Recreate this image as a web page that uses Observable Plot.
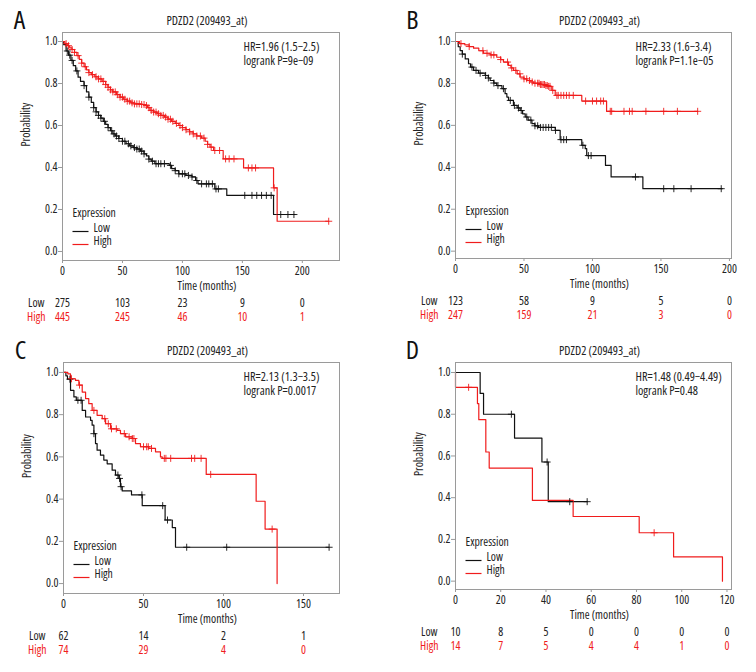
<!DOCTYPE html>
<html><head><meta charset="utf-8">
<script src="https://cdn.jsdelivr.net/npm/d3@7"></script>
<script src="https://cdn.jsdelivr.net/npm/@observablehq/plot@0.6"></script>
<style>
body{margin:0;background:#fff;}
#fig{position:relative;width:756px;height:672px;background:#fff;overflow:hidden;}
#fig svg{position:absolute;background:transparent;}
</style></head><body><div id="fig"></div>
<script>
const RED = "#f01c1c";
const GRAY = "#9a9a9a";
const TXT = "#222";

const title = "PDZD2 (209493_at)";
const yTicks = [0, 0.2, 0.4, 0.6, 0.8, 1.0];

// ---------- Panel A ----------
const aXTicks = [0, 50, 100, 150, 200];
const aHR = ["HR=1.96 (1.5−2.5)", "logrank P=9e−09"];
const aLow = [[0,1],[1,0.985],[3,0.955],[5,0.935],[7,0.91],[9,0.885],[11,0.86],[13,0.83],[15,0.81],[18,0.79],[20,0.76],[22,0.735],[24,0.71],[26,0.685],[28,0.665],[30,0.648],[32,0.635],[34,0.62],[36,0.605],[38,0.59],[40,0.575],[42,0.56],[44,0.55],[47,0.538],[50,0.525],[53,0.513],[56,0.503],[59,0.495],[62,0.488],[65,0.478],[68,0.465],[70,0.455],[72,0.44],[74,0.43],[77,0.418],[89,0.41],[91,0.395],[94,0.385],[97,0.37],[103,0.362],[108,0.355],[111,0.338],[113,0.322],[127,0.298],[137,0.267],[176,0.176],[194,0.176]];
const aHigh = [[0,1],[2,0.99],[4,0.98],[6,0.97],[8,0.962],[10,0.948],[12,0.933],[14,0.915],[16,0.897],[18,0.88],[20,0.865],[22,0.852],[24,0.842],[27,0.832],[30,0.822],[33,0.81],[36,0.795],[38,0.782],[40,0.77],[42,0.76],[45,0.747],[48,0.735],[51,0.725],[54,0.716],[57,0.708],[60,0.703],[65,0.7],[69,0.695],[71,0.685],[73,0.672],[76,0.664],[79,0.656],[82,0.648],[85,0.64],[88,0.63],[91,0.62],[94,0.61],[97,0.6],[100,0.59],[103,0.58],[106,0.57],[109,0.56],[112,0.55],[116,0.54],[119,0.525],[121,0.51],[123,0.497],[126,0.481],[134,0.441],[151,0.398],[176,0.303],[179,0.144],[222,0.144]];
const aLowCens = [4,6,8,12,18,22,26,28,30,32,35,38,41,43,45,47,50,52,55,57,60,62,64,66,68,72,75,78,80,82,85,90,94,97,100,102,105,108,112,116,120,122,125,128,130,152,158,162,166,170,174,182,188,193];
const aHighCens = [3,5,8,10,13,16,19,22,25,28,30,32,34,36,38,40,42,44,46,48,50,52,54,56,58,60,62,64,66,68,70,72,74,76,78,80,82,84,86,88,90,92,95,98,100,103,106,109,112,115,118,121,124,127,131,136,139,143,155,158,161,176.5,222];
const aRiskLow = [275, 103, 23, 9, 0];
const aRiskHigh = [445, 245, 46, 10, 1];

// ---------- Panel B ----------
const bXTicks = [0, 50, 100, 150, 200];
const bHR = ["HR=2.33 (1.6−3.4)", "logrank P=1.1e−05"];
const bLow = [[0,1],[2,0.975],[3.4,0.957],[5,0.94],[7.1,0.917],[9.5,0.894],[11,0.878],[13.2,0.862],[16.8,0.849],[21.7,0.838],[24,0.826],[25.3,0.814],[28,0.802],[30.1,0.79],[33.9,0.775],[36.2,0.751],[37.5,0.735],[38.7,0.719],[42.3,0.695],[45,0.683],[47.2,0.671],[49,0.655],[50.9,0.64],[53,0.625],[55.8,0.608],[58,0.598],[60.6,0.59],[72.8,0.576],[76.4,0.532],[92.2,0.505],[94.7,0.489],[95.8,0.456],[109.5,0.409],[113.6,0.354],[136.8,0.298],[194.7,0.298]];
const bHigh = [[0,1],[3,0.99],[6.8,0.984],[10,0.976],[13.2,0.968],[17,0.956],[20.4,0.944],[25.3,0.936],[30.1,0.925],[33,0.914],[35,0.902],[38.7,0.886],[40.5,0.874],[42.3,0.862],[45,0.846],[47.2,0.83],[50,0.822],[52.1,0.814],[55,0.807],[57,0.801],[61.9,0.795],[66,0.79],[68,0.786],[70.3,0.767],[72.8,0.743],[92.2,0.716],[110.3,0.667],[176.8,0.667]];
const bLowCens = [5,12,15,18,22,24,28,31,35,40,43,46,48,52,55,58,60,62,64,66,68,70,73,77,79,81,93,97,99,131.4,152,159.4,172,194];
const bHighCens = [4,10,20,23,26,28,33,38,41,44,47,50,52,54,56,58,60,61,62,63,64,65,66,67,68,69,71,74,75,77,79,81,83,86,95,100,103,106,108,113,114,123,127,129,139,152,162,176.8];
const bRiskLow = [123, 58, 9, 5, 0];
const bRiskHigh = [247, 159, 21, 3, 0];

// ---------- Panel C ----------
const cXTicks = [0, 50, 100, 150];
const cHR = ["HR=2.13 (1.3−3.5)", "logrank P=0.0017"];
const cLow = [[0,1],[1.5,0.984],[2.5,0.968],[4.4,0.915],[6.5,0.884],[8,0.868],[11.7,0.82],[13.8,0.789],[16.9,0.773],[17.9,0.75],[19,0.71],[20,0.663],[21,0.632],[23.1,0.608],[25.2,0.585],[27.3,0.567],[30.4,0.537],[32.5,0.514],[34.6,0.498],[35.6,0.459],[36.7,0.439],[42.5,0.42],[49.2,0.369],[63.5,0.301],[68,0.265],[70,0.172],[165.8,0.172]];
const cHigh = [[0,1],[2.7,0.993],[4.4,0.97],[7.5,0.962],[9.6,0.94],[11.7,0.907],[13.8,0.876],[15.8,0.852],[17.9,0.82],[21,0.797],[24.2,0.781],[26.3,0.757],[29.4,0.733],[33.5,0.726],[35.6,0.71],[38.8,0.695],[43,0.687],[45,0.663],[48.1,0.648],[53.3,0.64],[57.5,0.624],[60.6,0.6],[61.7,0.593],[89.2,0.517],[120.4,0.39],[126,0.258],[133.5,0]];
const cLowCens = [4,9,11,19,34,35,36,49,62,65,77,102,166];
const cHighCens = [5,10,19,25.8,28,30,33,38,41,43,44,50,52,53,55,63,64,67,80,82,86,92,130.4];
const cRiskLow = [62, 14, 2, 1];
const cRiskHigh = [74, 29, 4, 0];

// ---------- Panel D ----------
const dXTicks = [0, 20, 40, 60, 80, 100, 120];
const dHR = ["HR=1.48 (0.49−4.49)", "logrank P=0.48"];
const dLow = [[0,1],[10.9,0.9],[12.4,0.8],[26.1,0.686],[38.2,0.571],[41,0.381],[58.2,0.381]];
const dHigh = [[0,1],[0,0.929],[9.7,0.851],[10.3,0.774],[13.4,0.619],[14.9,0.542],[34,0.387],[52,0.31],[81.2,0.232],[96.4,0.116],[118,0]];
const dLowCens = [24.7,40.5,50.5,58.2];
const dHighCens = [5.8,87.8];
const dRiskLow = [10, 8, 5, 0, 0, 0, 0];
const dRiskHigh = [14, 7, 5, 4, 4, 1, 0];

const panels = [
  {letter:"A", left:0, top:0, frame:{l:62,r:339,t:32,b:260}, xDomain:[0,231], yDomain:[-0.043,1.043], xTicks:aXTicks, hr:aHR, low:aLow, high:aHigh, lowCens:aLowCens, highCens:aHighCens, riskLow:aRiskLow, riskHigh:aRiskHigh},
  {letter:"B", left:378, top:0, frame:{l:455,r:731,t:32,b:258}, xDomain:[0,201.5], yDomain:[-0.035,1.043], xTicks:bXTicks, hr:bHR, low:bLow, high:bHigh, lowCens:bLowCens, highCens:bHighCens, riskLow:bRiskLow, riskHigh:bRiskHigh},
  {letter:"C", left:0, top:336, frame:{l:63,r:339,t:362,b:593}, xDomain:[0,172.5], yDomain:[-0.047,1.047], xTicks:cXTicks, hr:cHR, low:cLow, high:cHigh, lowCens:cLowCens, highCens:cHighCens, riskLow:cRiskLow, riskHigh:cRiskHigh},
  {letter:"D", left:378, top:336, frame:{l:455,r:731,t:362,b:589}, xDomain:[0,122], yDomain:[-0.04,1.048], xTicks:dXTicks, hr:dHR, low:dLow, high:dHigh, lowCens:dLowCens, highCens:dHighCens, riskLow:dRiskLow, riskHigh:dRiskHigh}
];

// pick the installed condensed sans face closest to the reference text width
function pickFont() {
  const cands = [
    ['"Noto Sans"', 'extra-condensed'], ['"Noto Sans"', 'condensed'], ['"Noto Sans"', 'semi-condensed'],
    ['"Open Sans"', 'condensed'], ['"Open Sans"', 'semi-condensed'],
    ['Roboto', 'condensed'], ['"Roboto Condensed"', 'normal'],
    ['"Liberation Sans Narrow"', 'normal'], ['"Liberation Sans"', 'condensed'],
    ['"DejaVu Sans"', 'condensed']
  ];
  const svg = d3.select("body").append("svg").attr("width", 400).attr("height", 50)
    .style("position", "absolute").style("left", "-2000px").style("top", "0");
  let best = null;
  for (const [fam, st] of cands) {
    const t = svg.append("text").attr("x", 0).attr("y", 20)
      .style("font-family", fam + ",sans-serif").style("font-stretch", st).style("font-size", "12px")
      .text("Time (months)");
    const w = t.node().getComputedTextLength();
    const score = Math.abs(w - 59);
    if (!best || score < best.score) best = {fam, st, w, score};
  }
  svg.remove();
  return best;
}
const FB = pickFont();
const FONT = FB.fam + ",sans-serif";
const K = Math.max(0.86, Math.min(1.12, 59 / FB.w));
const FS = 12 * K;

function survAt(curve, t) {
  let v = curve[0][1];
  for (const [tt, s] of curve) { if (tt <= t) v = s; else break; }
  return v;
}

const legendSwatch = {draw(ctx){ ctx.moveTo(-8,0); ctx.lineTo(8,0); }};

const fig = document.getElementById("fig");
const W = 378, H = 336;

function label(str, opts) {
  return Plot.text([str], {text: d => d, fontSize: FS, fill: TXT, ...opts});
}

for (const p of panels) {
  const lowData = p.low.map(([t,s]) => ({t, s}));
  const highData = p.high.map(([t,s]) => ({t, s}));
  const lowC = p.lowCens.map(t => ({t, s: survAt(p.low, t)}));
  const highC = p.highCens.map(t => ({t, s: survAt(p.high, t)}));
  const f = p.frame;
  const chart = Plot.plot({
    width: W, height: H,
    marginLeft: f.l - p.left, marginRight: p.left + W - f.r,
    marginTop: f.t - p.top, marginBottom: p.top + H - f.b,
    style: {fontFamily: FONT, fontSize: FS + "px", background: "transparent", color: TXT},
    x: {domain: p.xDomain},
    y: {domain: p.yDomain},
    marks: [
      Plot.axisX({ticks: p.xTicks, tickSize: 3, tickPadding: 3, label: null, stroke: GRAY, fill: TXT, fontSize: FS}),
      Plot.axisY({ticks: yTicks, tickFormat: d3.format(".1f"), tickSize: 4, tickPadding: 1, label: null, stroke: GRAY, fill: TXT, fontSize: FS}),
      Plot.line(lowData, {x: "t", y: "s", curve: "step-after", stroke: "#111", strokeWidth: 1.2}),
      Plot.line(highData, {x: "t", y: "s", curve: "step-after", stroke: RED, strokeWidth: 1.2}),
      Plot.dot(lowC, {x: "t", y: "s", symbol: "plus", r: 2.4, stroke: "#111", strokeWidth: 0.9}),
      Plot.dot(highC, {x: "t", y: "s", symbol: "plus", r: 2.4, stroke: RED, strokeWidth: 0.9}),
      Plot.frame({stroke: GRAY}),
      // panel letter and title
      label(p.letter, {frameAnchor: "top-left", dx: -43, dy: -4, lineAnchor: "bottom", textAnchor: "middle", fontSize: 26, fill: "#111"}),
      label(title, {frameAnchor: "top", dx: 6, dy: -8, lineAnchor: "bottom", fontSize: FS * 1.04}),
      // HR text
      label(p.hr[0], {frameAnchor: "top-right", dx: -96, dy: 15, textAnchor: "start", lineAnchor: "middle", fontSize: FS * 1.04}),
      label(p.hr[1], {frameAnchor: "top-right", dx: -96, dy: 29, textAnchor: "start", lineAnchor: "middle", fontSize: FS * 1.04}),
      // axis titles
      label("Probability", {frameAnchor: "left", dx: -36, rotate: -90}),
      label("Time (months)", {frameAnchor: "bottom", dx: 6, dy: 29}),
      // legend
      label("Expression", {frameAnchor: "bottom-left", dx: 10, dy: -44, textAnchor: "start"}),
      Plot.dot(["Low"], {frameAnchor: "bottom-left", dx: 18, dy: -29, symbol: legendSwatch, stroke: "#111", strokeWidth: 1.2, r: 5}),
      Plot.dot(["High"], {frameAnchor: "bottom-left", dx: 18, dy: -16, symbol: legendSwatch, stroke: RED, strokeWidth: 1.2, r: 5}),
      label("Low", {frameAnchor: "bottom-left", dx: 31, dy: -29, textAnchor: "start"}),
      label("High", {frameAnchor: "bottom-left", dx: 31, dy: -16, textAnchor: "start"}),
      // risk table
      label("Low", {frameAnchor: "bottom-left", dx: -18, dy: 46, textAnchor: "end"}),
      label("High", {frameAnchor: "bottom-left", dx: -17, dy: 60, textAnchor: "end", fill: RED}),
      Plot.text(p.riskLow, {x: (d, i) => p.xTicks[i], text: d => String(d), frameAnchor: "bottom", dy: 46, fontSize: FS, fill: TXT}),
      Plot.text(p.riskHigh, {x: (d, i) => p.xTicks[i], text: d => String(d), frameAnchor: "bottom", dy: 60, fontSize: FS, fill: RED})
    ]
  });
  chart.style.left = p.left + "px";
  chart.style.top = p.top + "px";
  chart.style.overflow = "visible";
  chart.style.fontStretch = FB.st;
  fig.appendChild(chart);
}
</script></body></html>
